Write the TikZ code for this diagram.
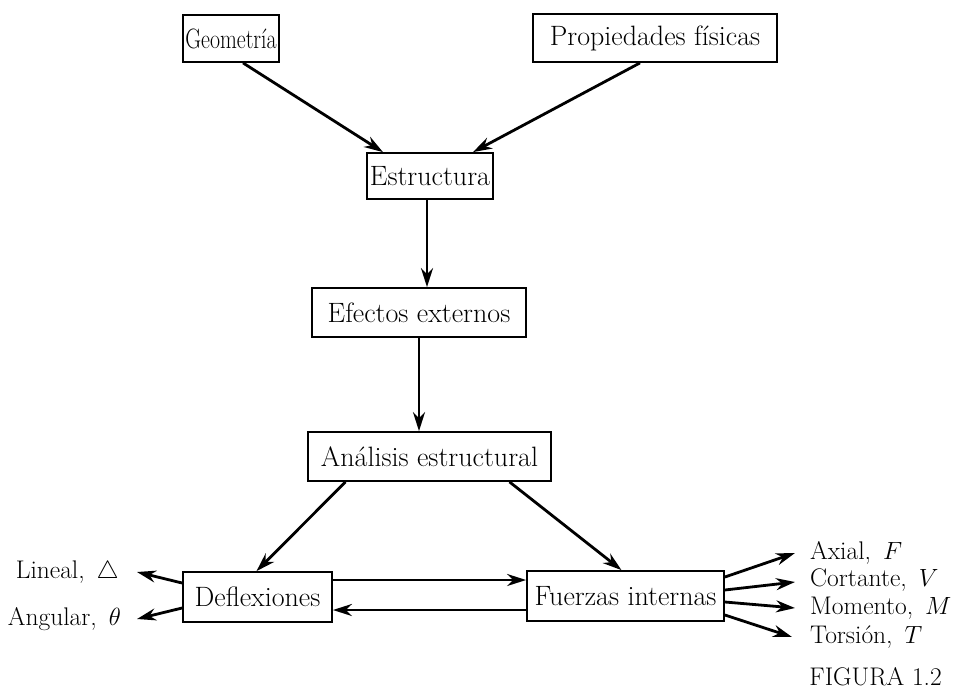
\documentclass[tikz,border=0pt]{standalone}
\usetikzlibrary{arrows.meta}
\begin{document}
\begin{tikzpicture}[x=1pt,y=-1pt,
  box/.style={draw,line width=1.8pt,inner sep=0pt,font=\fontsize{28}{32}\selectfont},
  lbl/.style={inner sep=0pt,font=\fontsize{25.5}{29}\selectfont},
  arr/.style={line width=2.8pt,-{Stealth[length=19pt,width=12pt]}}]
\useasboundingbox (0,0) rectangle (956,689);
\node[box,minimum width=96pt,minimum height=47pt] (geo) at (231,38.5) {\scalebox{0.78}[1]{Geometría}};
\node[box,minimum width=244pt,minimum height=48pt] (prop) at (655,38) {Propiedades físicas};
\node[box,minimum width=126pt,minimum height=46pt] (est) at (430,176) {Estructura};
\node[box,minimum width=214pt,minimum height=49pt] (efe) at (419,312.5) {Efectos externos};
\node[box,minimum width=243pt,minimum height=49pt] (ana) at (429.5,456.5) {Análisis estructural};
\node[box,minimum width=149pt,minimum height=50pt] (def) at (257.5,597) {Deflexiones};
\node[box,minimum width=197pt,minimum height=50pt] (fue) at (625.5,596) {Fuerzas internas};

\node[lbl,anchor=east] (lin) at (119,572) {Lineal,\, $\bigtriangleup$};
\node[lbl,anchor=east] (ang) at (121,619) {Angular,\, $\theta$};
\node[lbl,anchor=west] (ax) at (810,553) {Axial,\, $F$};
\node[lbl,anchor=west] (cor) at (810,580) {Cortante,\, $V$};
\node[lbl,anchor=west] (mom) at (810,608) {Momento,\, $M$};
\node[lbl,anchor=west] (tor) at (810,637) {Torsión,\, $T$};
\node[lbl,anchor=east] (fig) at (942,677) {FIGURA 1.2};

\draw[arr] ([xshift=12pt]geo.south) -- ([xshift=-47pt]est.north);
\draw[arr] ([xshift=-15pt]prop.south) -- ([xshift=43pt]est.north);
\draw[arr] ([xshift=-3pt]est.south) -- ([xshift=-3pt]est.south |- efe.north);
\draw[arr] (efe.south) -- (efe.south |- ana.north);
\draw[arr] ([xshift=-84pt]ana.south) -- ([xshift=-1pt]def.north);
\draw[arr] ([xshift=80pt]ana.south) -- ([xshift=-4pt]fue.north);
\draw[arr] ([yshift=17pt]def.east) -- ([yshift=16pt]fue.west);
\draw[arr] ([yshift=-14pt]fue.west) -- ([yshift=-13pt]def.east);
\coordinate (lt) at (137,572);
\coordinate (at) at (137,619);
\draw[arr] ([yshift=14pt]def.west) -- (lt);
\draw[arr] ([yshift=-11pt]def.west) -- (at);
\coordinate (t1) at (795,553);
\coordinate (t2) at (795,582);
\coordinate (t3) at (795,608);
\coordinate (t4) at (792,637);
\draw[arr] ([yshift=19pt]fue.east) -- (t1);
\draw[arr] ([yshift=6pt]fue.east) -- (t2);
\draw[arr] ([yshift=-6pt]fue.east) -- (t3);
\draw[arr] ([yshift=-19pt]fue.east) -- (t4);
\end{tikzpicture}
\end{document}
